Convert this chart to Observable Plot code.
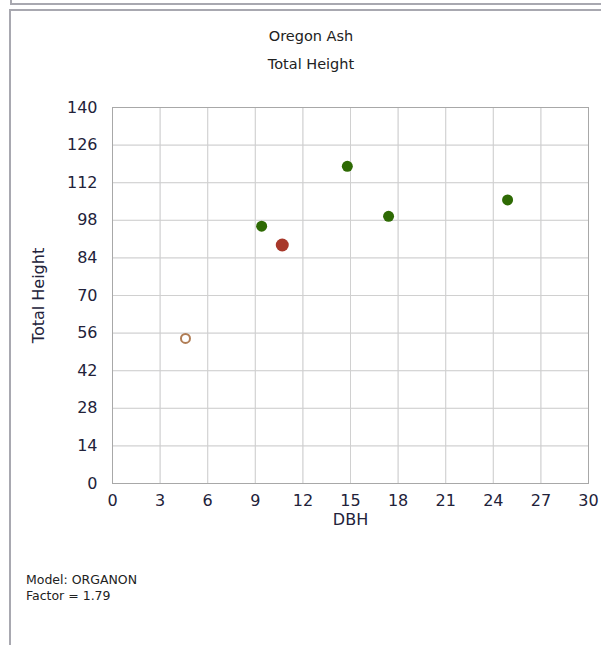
<!DOCTYPE html>
<html>
<head>
<meta charset="utf-8">
<script src="https://cdn.jsdelivr.net/npm/d3@7"></script>
<script src="https://cdn.jsdelivr.net/npm/@observablehq/plot@0.6"></script>
<style>
  html, body { margin: 0; padding: 0; background: #fff; }
  #wrap { position: relative; width: 601px; height: 645px; overflow: hidden; font-family: "DejaVu Sans", sans-serif; }
  .ln { position: absolute; }
  .txt { position: absolute; white-space: nowrap; color: #222; }
</style>
</head>
<body>
<div id="wrap">
  <div class="ln" style="left:10px;top:0;width:2px;height:5px;background:#a8a8b0"></div>
  <div class="ln" style="left:10px;top:3px;width:591px;height:2px;background:#a8a8b0"></div>
  <div class="ln" style="left:9px;top:9px;width:592px;height:2px;background:#a8a8b0"></div>
  <div class="ln" style="left:9px;top:9px;width:2px;height:636px;background:#a8a8b0"></div>
  <div id="chart" style="position:absolute;left:0;top:0"></div>
  <div class="txt" style="left:0;width:622px;top:28px;text-align:center;font-size:14.5px;">Oregon Ash</div>
  <div class="txt" style="left:0;width:622px;top:56px;text-align:center;font-size:14.5px;">Total Height</div>
  <div class="txt" style="left:26px;top:572px;font-size:12.5px;line-height:16px;">Model: ORGANON<br>Factor = 1.79</div>
</div>
<script>
const xTicks = [0, 3, 6, 9, 12, 15, 18, 21, 24, 27, 30];
const yTicks = [0, 14, 28, 42, 56, 70, 84, 98, 112, 126, 140];

const liveDBH = [9.4, 14.8, 17.4, 24.9];
const liveHeight = [95.8, 118.1, 99.5, 105.6];
const selDBH = [10.7];
const selHeight = [88.8];
const openDBH = [4.6];
const openHeight = [54.0];

const live = liveDBH.map((d, i) => ({dbh: d, h: liveHeight[i]}));
const sel = selDBH.map((d, i) => ({dbh: d, h: selHeight[i]}));
const open = openDBH.map((d, i) => ({dbh: d, h: openHeight[i]}));

const chart = Plot.plot({
  width: 601,
  height: 645,
  marginLeft: 112,
  marginRight: 13,
  marginTop: 107,
  marginBottom: 162,
  style: {background: "transparent", fontFamily: "DejaVu Sans, sans-serif", fontSize: "16px", color: "#22223a"},
  x: {domain: [0, 30], ticks: xTicks, tickSize: 0, tickPadding: 11, label: "DBH", labelAnchor: "center", labelArrow: "none", labelOffset: 41, grid: true},
  y: {domain: [0, 140], ticks: yTicks, tickSize: 0, tickPadding: 15, label: "Total Height", labelAnchor: "center", labelArrow: "none", labelOffset: 80, grid: true},
  marks: [
    Plot.gridX(xTicks, {stroke: "#d0d0d0", strokeOpacity: 1}),
    Plot.gridY(yTicks, {stroke: "#d0d0d0", strokeOpacity: 1}),
    Plot.frame({stroke: "#a8a8a8"}),
    Plot.dot(open, {x: "dbh", y: "h", r: 4.5, stroke: "#b07d55", strokeWidth: 2, fill: "white"}),
    Plot.dot(live, {x: "dbh", y: "h", r: 5.5, fill: "#2e6a04", stroke: "none"}),
    Plot.dot(sel, {x: "dbh", y: "h", r: 6.5, fill: "#a8382a", stroke: "none"})
  ]
});
document.getElementById("chart").appendChild(chart);
</script>
</body>
</html>
